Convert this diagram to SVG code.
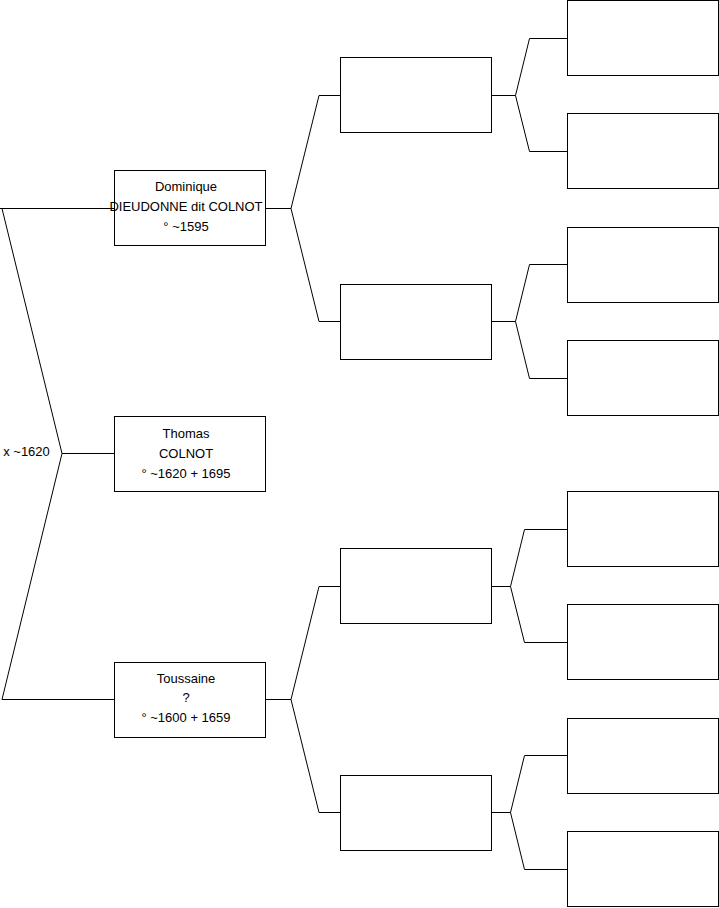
<svg xmlns="http://www.w3.org/2000/svg" width="719" height="908" viewBox="0 0 719 908">
<style>
.box{fill:#fff;stroke:#000;stroke-width:1}
.ln{fill:none;stroke:#000;stroke-width:1}
text{font-family:"Liberation Sans",Arial,sans-serif;font-size:13px;fill:#000;text-anchor:middle}
</style>
<rect width="719" height="908" fill="#fff"/>
<g id="connectors">
<polyline class="ln" points="0,208.5 114.5,208.5"/>
<polyline class="ln" points="2,208.5 62,453.5 2,699.5 114.5,699.5"/>
<polyline class="ln" points="62,453.5 114.5,453.5"/>
<polyline class="ln" points="265.5,208.5 291,208.5"/>
<polyline class="ln" points="340.5,95.5 319,95.5 291,208.5 319,321.5 340.5,321.5"/>
<polyline class="ln" points="265.5,699.5 291,699.5"/>
<polyline class="ln" points="340.5,586.5 319,586.5 291,699.5 319,812.5 340.5,812.5"/>
<polyline class="ln" points="491.5,95.5 515.5,95.5"/>
<polyline class="ln" points="567.5,38.5 529.5,38.5 515.5,95.5 529.5,151.5 567.5,151.5"/>
<polyline class="ln" points="491.5,321.5 515.5,321.5"/>
<polyline class="ln" points="567.5,264.5 529.5,264.5 515.5,321.5 529.5,378.5 567.5,378.5"/>
<polyline class="ln" points="491.5,586.5 510.5,586.5"/>
<polyline class="ln" points="567.5,529.5 524.5,529.5 510.5,586.5 524.5,642.5 567.5,642.5"/>
<polyline class="ln" points="491.5,812.5 510.5,812.5"/>
<polyline class="ln" points="567.5,755.5 524.5,755.5 510.5,812.5 524.5,869.5 567.5,869.5"/>
</g>
<g id="marriage"><text x="26.5" y="455.5">x ~1620</text></g>
<g id="dominique"><rect class="box" x="114.5" y="170.5" width="151" height="75"/>
<text x="186" y="191">Dominique</text><text x="186" y="211">DIEUDONNE dit COLNOT</text><text x="186" y="231">° ~1595</text></g>
<g id="thomas"><rect class="box" x="114.5" y="416.5" width="151" height="75"/>
<text x="186" y="437.5">Thomas</text><text x="186" y="457.5">COLNOT</text><text x="186" y="477.5">° ~1620 + 1695</text></g>
<g id="toussaine"><rect class="box" x="114.5" y="662.5" width="151" height="75"/>
<text x="186" y="682.5">Toussaine</text><text x="186" y="702">?</text><text x="186" y="722">° ~1600 + 1659</text></g>
<g id="g2a"><rect class="box" x="340.5" y="57.5" width="151" height="75"/></g>
<g id="g2b"><rect class="box" x="340.5" y="284.5" width="151" height="75"/></g>
<g id="g2c"><rect class="box" x="340.5" y="548.5" width="151" height="75"/></g>
<g id="g2d"><rect class="box" x="340.5" y="775.5" width="151" height="75"/></g>
<g id="g3a"><rect class="box" x="567.5" y="0.5" width="151" height="75"/></g>
<g id="g3b"><rect class="box" x="567.5" y="113.5" width="151" height="75"/></g>
<g id="g3c"><rect class="box" x="567.5" y="227.5" width="151" height="75"/></g>
<g id="g3d"><rect class="box" x="567.5" y="340.5" width="151" height="75"/></g>
<g id="g3e"><rect class="box" x="567.5" y="491.5" width="151" height="75"/></g>
<g id="g3f"><rect class="box" x="567.5" y="604.5" width="151" height="75"/></g>
<g id="g3g"><rect class="box" x="567.5" y="718.5" width="151" height="75"/></g>
<g id="g3h"><rect class="box" x="567.5" y="831.5" width="151" height="75"/></g>
</svg>
